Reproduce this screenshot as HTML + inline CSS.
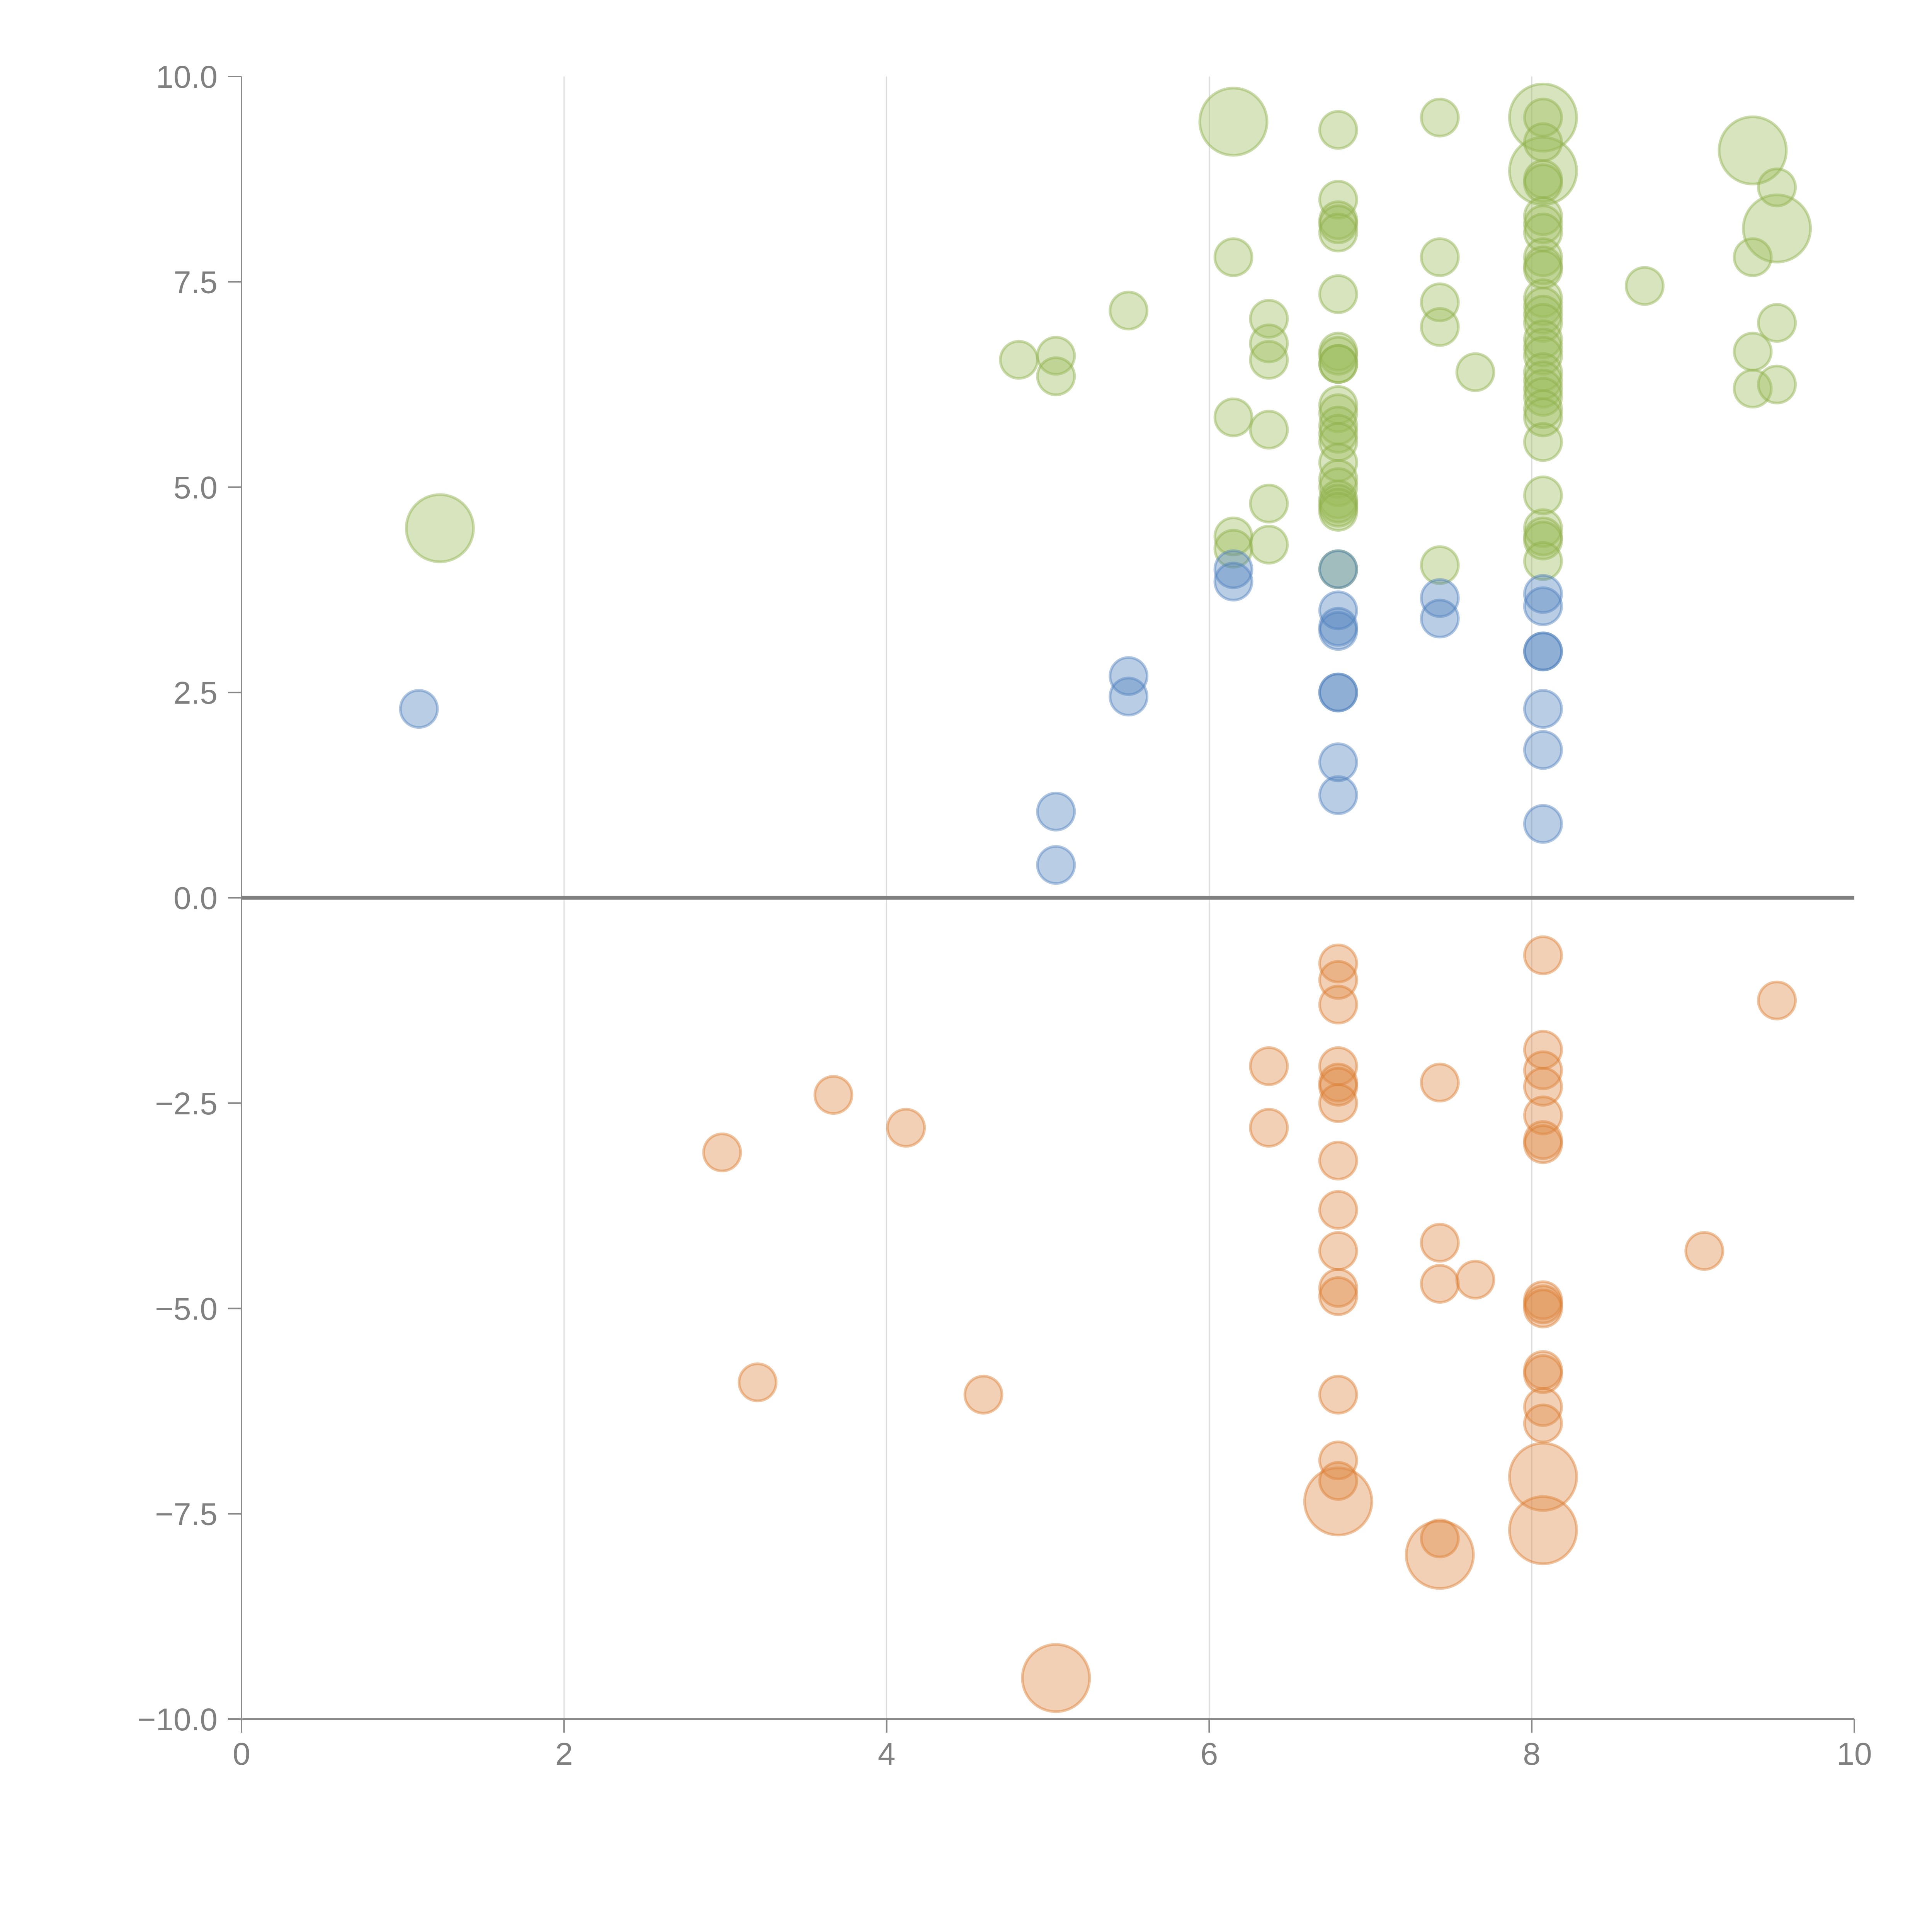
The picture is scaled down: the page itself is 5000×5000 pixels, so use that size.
<!DOCTYPE html>
<html><head><meta charset="utf-8"><style>
html,body{margin:0;padding:0;background:#fff;overflow:hidden;width:5000px;height:5000px;}
svg{display:block;}
svg text{font-family:"Liberation Sans",Arial,sans-serif;fill:#808080;}
</style></head><body>
<svg id="chart" width="5000" height="5000" viewBox="0 0 5000 5000" xmlns="http://www.w3.org/2000/svg">
<g id="grid"></g>
<g id="axes"></g>
<g id="marks"></g>
</svg>
<script>
const xTicks=[0,2,4,6,8,10];
const yTicks=[10,7.5,5,2.5,0,-2.5,-5,-7.5,-10];
const yTickLabels=["10.0","7.5","5.0","2.5","0.0","\u22122.5","\u22125.0","\u22127.5","\u221210.0"];
const greenX=[1.23,6.15,8.07,8.07,9.37,9.52,
6.8,6.8,6.8,6.8,6.8,6.8,6.8,6.8,6.8,6.8,6.8,6.8,6.8,6.8,6.8,6.8,6.8,6.8,6.8,6.8,6.8,6.8,6.8,
7.43,7.43,7.43,7.43,7.43,
8.07,8.07,8.07,8.07,8.07,8.07,8.07,8.07,8.07,8.07,8.07,8.07,8.07,8.07,8.07,8.07,8.07,8.07,8.07,8.07,8.07,8.07,8.07,8.07,8.07,8.07,8.07,8.07,8.07,
6.15,6.15,6.15,6.15,6.37,6.37,6.37,6.37,6.37,6.37,5.5,5.05,5.05,4.82,7.65,8.7,9.37,9.37,9.37,9.52,9.52,9.52];
const greenY=[4.5,9.45,9.5,8.85,9.1,8.15,
9.35,8.5,8.25,8.2,8.1,7.35,6.65,6.6,6.5,6.5,6.0,5.9,5.75,5.65,5.55,5.3,5.1,5.0,4.85,4.8,4.75,4.7,4.0,
9.5,7.8,7.25,6.95,4.05,
9.5,9.2,8.75,8.7,8.3,8.2,8.1,7.8,7.7,7.65,7.3,7.2,7.1,7.0,6.8,6.7,6.6,6.4,6.3,6.2,6.1,5.95,5.85,5.55,4.9,4.5,4.4,4.35,4.1,
7.8,5.85,4.4,4.25,7.05,6.75,6.55,5.7,4.8,4.3,7.15,6.6,6.35,6.55,6.4,7.45,7.8,6.65,6.2,8.65,7.0,6.25];
const greenSize=[2,2,2,2,2,2];
const blueX=[1.1,5.05,5.05,5.5,5.5,6.15,6.15,6.8,6.8,6.8,6.8,6.8,6.8,6.8,6.8,7.43,7.43,8.07,8.07,8.07,8.07,8.07,8.07,8.07];
const blueY=[2.3,1.05,0.4,2.7,2.45,4.0,3.85,4.0,3.5,3.3,3.25,2.5,2.5,1.65,1.25,3.65,3.4,3.7,3.55,3.0,3.0,2.3,1.8,0.9];
const orangeX=[5.05,6.8,7.43,8.07,8.07,
2.98,3.2,3.67,4.12,4.6,6.37,6.37,6.8,6.8,6.8,6.8,6.8,6.8,6.8,6.8,6.8,6.8,6.8,6.8,6.8,6.8,6.8,7.43,7.43,7.43,7.43,7.65,
8.07,8.07,8.07,8.07,8.07,8.07,8.07,8.07,8.07,8.07,8.07,8.07,8.07,8.07,9.07,9.52];
const orangeY=[-9.5,-7.35,-8.0,-7.05,-7.7,
-3.1,-5.9,-2.4,-2.8,-6.05,-2.05,-2.8,-0.8,-1.0,-1.3,-2.05,-2.25,-2.3,-2.5,-3.2,-3.8,-4.3,-4.75,-4.85,-6.05,-6.85,-7.1,-2.25,-4.2,-4.7,-7.8,-4.65,
-0.7,-1.85,-2.1,-2.3,-2.65,-2.95,-3.0,-4.9,-4.95,-5.0,-5.75,-5.8,-6.2,-6.4,-4.3,-1.25];
const orangeSize=[2,2,2,2,2];

const L=625,R=4799,T=198,B=4449;
const NS="http://www.w3.org/2000/svg";
function sx(v){return L+(v-0)/(10-0)*(R-L);}
function sy(v){return B-(v+10)/20*(B-T);}
function rad(s){return s===2?87:48;}
function mk(tag,attrs,parent){const e=document.createElementNS(NS,tag);for(const k in attrs)e.setAttribute(k,attrs[k]);parent.appendChild(e);return e;}
const grid=document.getElementById('grid'),axes=document.getElementById('axes'),marks=document.getElementById('marks');
xTicks.forEach(t=>{if(t>0&&t<10){const g=mk('line',{x1:sx(t),x2:sx(t),y1:T,y2:B,stroke:'#dcdcdc','stroke-width':3},grid);

}});
const ya=mk('line',{x1:L,x2:L,y1:T,y2:B,stroke:'#888','stroke-width':4},axes);


const xa=mk('line',{x1:L,x2:R,y1:B,y2:B,stroke:'#888','stroke-width':4},axes);


yTicks.forEach((t,i)=>{
 const tk=mk('line',{x1:L-35,x2:L,y1:sy(t),y2:sy(t),stroke:'#888','stroke-width':4},axes);
 
 
 const tx=mk('text',{x:L-62,y:sy(t)+29,'font-size':82,'text-anchor':'end'},axes);tx.textContent=yTickLabels[i];
 
 
});
xTicks.forEach(t=>{
 const tk=mk('line',{x1:sx(t),x2:sx(t),y1:B,y2:B+35,stroke:'#888','stroke-width':4},axes);
 
 
 const tx=mk('text',{x:sx(t),y:B+118,'font-size':82,'text-anchor':'middle'},axes);tx.textContent=String(t);
 
 
});
function series(xs,ys,sizes,fill,stroke,name){
 xs.forEach((x,i)=>{
  const c=mk('circle',{cx:sx(x),cy:sy(ys[i]),r:rad(sizes[i]||1),fill:fill,'fill-opacity':0.4,stroke:stroke,'stroke-opacity':0.45,'stroke-width':7},marks);
  
  
 });
}
series(greenX,greenY,greenSize,'#9bbb59','#8db04a','bubble-green');
series(blueX,blueY,[],'#4f81bd','#4f81bd','bubble-blue');
series(orangeX,orangeY,orangeSize,'#de8a45','#dc7c2e','bubble-orange');
const z=mk('line',{x1:L,x2:R,y1:sy(0),y2:sy(0),stroke:'#808080','stroke-width':10},axes);


</script>
</body></html>
